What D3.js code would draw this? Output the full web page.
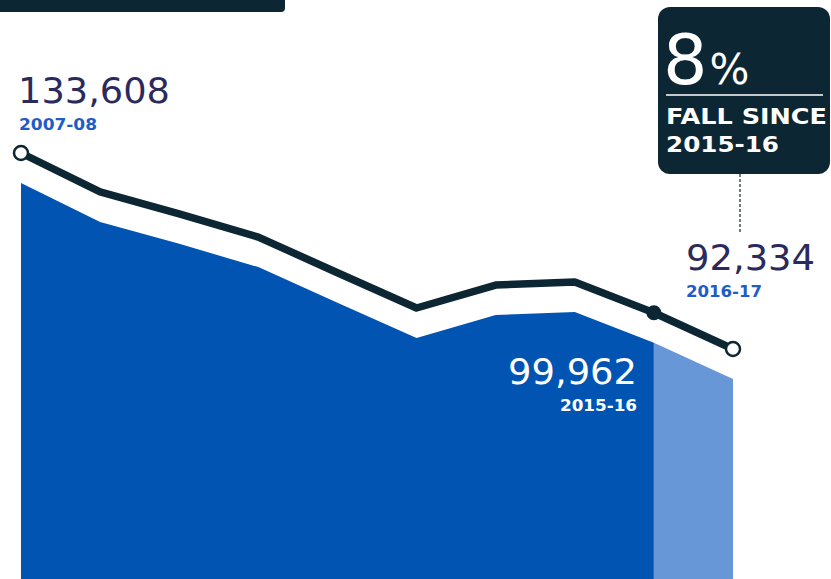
<!DOCTYPE html>
<html>
<head>
<meta charset="utf-8">
<script src="https://cdn.jsdelivr.net/npm/d3@7"></script>
<style>
  html, body { margin: 0; padding: 0; background: #fff; }
  svg { display: block; }
  text { font-family: "DejaVu Sans", Verdana, sans-serif; }
</style>
</head>
<body>
<svg id="chart" width="831" height="579"></svg>
<script>
// Yearly totals, 2007-08 to 2016-17
const years = ["2007-08", "2008-09", "2009-10", "2010-11", "2011-12",
               "2012-13", "2013-14", "2014-15", "2015-16", "2016-17"];
const totals = [133608, 125400, 120800, 115900, 108400,
                100970, 105800, 106440, 99962, 92334];
const fallPct = "8";
const fallLines = ["FALL SINCE", "2015-16"];

const W = 831, H = 579;
const navy = "#0d2633";
const svg = d3.select("#chart");

const x = d3.scalePoint().domain(years).range([21, 733]);
const y = d3.scaleLinear().domain([d3.min(totals), d3.max(totals)]).range([349, 153]);
const gap = 30; // area sits below the line

const data = years.map((yr, i) => ({ yr, v: totals[i], i }));

// header bar peeking in at top left
svg.append("rect").attr("x", -6).attr("y", -12).attr("width", 291).attr("height", 24)
  .attr("rx", 4).attr("fill", navy);

// filled area, split into the earlier years and the latest year
const area = d3.area()
  .x(d => x(d.yr))
  .y0(H + 5)
  .y1(d => y(d.v) + gap);

svg.append("path").datum(data.slice(0, 9))
  .attr("d", area).attr("fill", "#0254b3");
svg.append("path").datum(data.slice(8))
  .attr("d", area).attr("fill", "#6897d8");

// main line
const line = d3.line().x(d => x(d.yr)).y(d => y(d.v));
svg.append("path").datum(data)
  .attr("d", line).attr("fill", "none").attr("stroke", navy)
  .attr("stroke-width", 7.5).attr("stroke-linejoin", "round").attr("stroke-linecap", "round");

// markers
[0, 9].forEach(i => {
  svg.append("circle").attr("cx", x(years[i])).attr("cy", y(totals[i]))
    .attr("r", 7).attr("fill", "#fff").attr("stroke", navy).attr("stroke-width", 2.5);
});
svg.append("circle").attr("cx", x(years[8])).attr("cy", y(totals[8]))
  .attr("r", 7.5).attr("fill", navy);

const fmt = d3.format(",");

function label(xp, yp, txt, opts) {
  const t = svg.append("text").attr("x", xp).attr("y", yp).text(txt)
    .attr("font-size", opts.size).attr("fill", opts.fill)
    .attr("font-weight", opts.bold ? "bold" : "normal")
    .attr("text-anchor", opts.anchor || "start");
  if (opts.len) t.attr("textLength", opts.len).attr("lengthAdjust", "spacingAndGlyphs");
  return t;
}

// first value
label(18, 103, fmt(totals[0]), { size: 36, fill: "#2b2a5c", len: 152 });
label(19, 130, years[0], { size: 16, fill: "#1e5cc8", bold: true, len: 78 });

// latest value
label(686, 270, fmt(totals[9]), { size: 36, fill: "#2b2a5c", len: 129 });
label(686, 297, years[9], { size: 16, fill: "#1e5cc8", bold: true, len: 76 });

// 2015-16 value inside the area
label(637, 384, fmt(totals[8]), { size: 36, fill: "#fff", anchor: "end", len: 129 });
label(637, 411, years[8], { size: 16, fill: "#fff", bold: true, anchor: "end", len: 77 });

// callout box
svg.append("line").attr("x1", 740).attr("x2", 740).attr("y1", 174).attr("y2", 233)
  .attr("stroke", navy).attr("stroke-width", 1.2).attr("stroke-dasharray", "3,2");
svg.append("rect").attr("x", 658).attr("y", 7).attr("width", 172).attr("height", 167)
  .attr("rx", 12).attr("fill", navy);
const big = svg.append("text").attr("x", 663).attr("y", 84).attr("fill", "#fff");
big.append("tspan").text(fallPct).attr("font-size", 70);
big.append("tspan").text("%").attr("font-size", 42).attr("dx", 2);
svg.append("line").attr("x1", 666).attr("x2", 823).attr("y1", 95).attr("y2", 95)
  .attr("stroke", "#fff").attr("stroke-width", 1.5);
label(666, 124, fallLines[0], { size: 22, fill: "#fff", bold: true, len: 161 });
label(666, 152, fallLines[1], { size: 22, fill: "#fff", bold: true, len: 113 });
</script>
</body>
</html>
